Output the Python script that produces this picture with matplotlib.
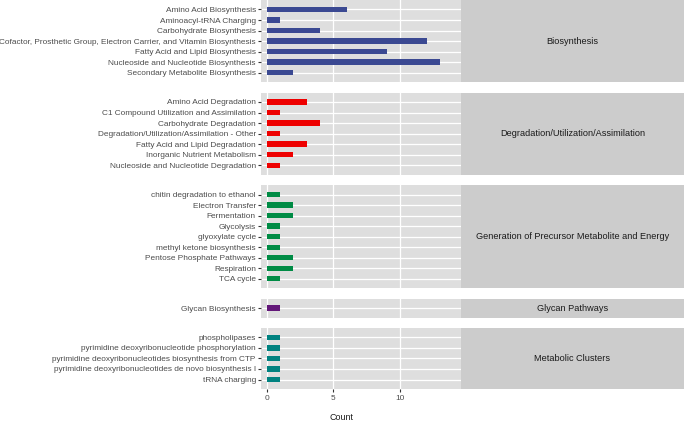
import matplotlib
matplotlib.use("Agg")
from matplotlib import pyplot as plt

plt.rcParams['font.family'] = ['Liberation Sans', 'DejaVu Sans']

# data, one list per facet (top to bottom)
groups = ["Biosynthesis",
          "Degradation/Utilization/Assimilation",
          "Generation of Precursor Metabolite and Energy",
          "Glycan Pathways",
          "Metabolic Clusters"]

bio_names = ["Amino Acid Biosynthesis", "Aminoacyl-tRNA Charging", "Carbohydrate Biosynthesis",
             "Cofactor, Prosthetic Group, Electron Carrier, and Vitamin Biosynthesis",
             "Fatty Acid and Lipid Biosynthesis", "Nucleoside and Nucleotide Biosynthesis",
             "Secondary Metabolite Biosynthesis"]
bio_counts = [6, 1, 4, 12, 9, 13, 2]

deg_names = ["Amino Acid Degradation", "C1 Compound Utilization and Assimilation",
             "Carbohydrate Degradation", "Degradation/Utilization/Assimilation - Other",
             "Fatty Acid and Lipid Degradation", "Inorganic Nutrient Metabolism",
             "Nucleoside and Nucleotide Degradation"]
deg_counts = [3, 1, 4, 1, 3, 2, 1]

gen_names = ["chitin degradation to ethanol", "Electron Transfer", "Fermentation", "Glycolysis",
             "glyoxylate cycle", "methyl ketone biosynthesis", "Pentose Phosphate Pathways",
             "Respiration", "TCA cycle"]
gen_counts = [1, 2, 2, 1, 1, 1, 2, 2, 1]

gly_names = ["Glycan Biosynthesis"]
gly_counts = [1]

met_names = ["phospholipases", "pyrimidine deoxyribonucleotide phosphorylation",
             "pyrimidine deoxyribonucleotides biosynthesis from CTP",
             "pyrimidine deoxyribonucleotides de novo biosynthesis I", "tRNA charging"]
met_counts = [1, 1, 1, 1, 1]

colors = ["#3B4992", "#EE0000", "#008B45", "#631879", "#008280"]
all_names = [bio_names, deg_names, gen_names, gly_names, met_names]
all_counts = [bio_counts, deg_counts, gen_counts, gly_counts, met_counts]

W, H = 685, 421
fig = plt.figure(figsize=(W / 100, H / 100), dpi=100)

# layout in pixels
left, right, strip_r = 261, 461, 684
top, bottom = 0, 389
pad = 0.9
gap = 10.4
units = [len(n) - 1 + 2 * pad for n in all_names]
u = (bottom - top - gap * (len(units) - 1)) / sum(units)

y0 = top
for i in range(len(groups)):
    h = units[i] * u
    ax = fig.add_axes([left / W, 1 - (y0 + h) / H, (right - left) / W, h / H])
    n = len(all_names[i])
    pos = list(range(n))
    ax.set_facecolor("#DEDEDE")
    ax.barh(pos, all_counts[i], height=0.5, color=colors[i], zorder=3)
    ax.set_ylim(n - 1 + pad, -pad)
    ax.set_xlim(-0.43, 14.58)
    ax.set_yticks(pos)
    ax.set_yticklabels(all_names[i])
    ax.set_xticks([0, 5, 10])
    ax.grid(True, color="white", linewidth=0.9, zorder=1)
    ax.set_axisbelow(True)
    for s in ax.spines.values():
        s.set_visible(False)
    ax.tick_params(axis="y", length=2.2, width=0.8, color="#333333", pad=1.5,
                   labelsize=5.95, labelcolor="#4D4D4D")
    if i == len(groups) - 1:
        ax.tick_params(axis="x", length=2.2, width=0.8, color="#333333", pad=2,
                       labelsize=5.95, labelcolor="#4D4D4D")
    else:
        ax.tick_params(axis="x", length=0, labelbottom=False)

    # facet strip on the right
    sax = fig.add_axes([right / W, 1 - (y0 + h) / H, (strip_r - right) / W, h / H])
    sax.set_facecolor("#CCCCCC")
    sax.set_xticks([])
    sax.set_yticks([])
    for s in sax.spines.values():
        s.set_visible(False)
    sax.text(0.5, 0.5, groups[i], ha="center", va="center", fontsize=6.55,
             color="#1A1A1A", transform=sax.transAxes)
    y0 += h + gap

fig.text(342 / W, 1 - 417 / H, "Count", ha="center", va="center", fontsize=6.4, color="#1A1A1A")

fig.savefig("out.png", dpi=100)
